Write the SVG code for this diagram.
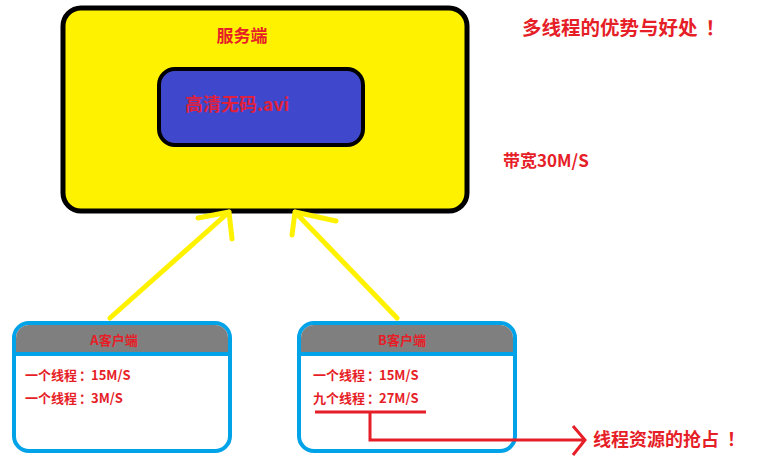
<svg xmlns="http://www.w3.org/2000/svg" width="774" height="464" viewBox="0 0 774 464">
  <style>
    .t { font-family: "Noto Sans CJK SC", "Liberation Sans", sans-serif; font-weight: bold; fill: #e61e28; }
    .yarrow { fill: none; stroke: #fff200; stroke-width: 5; stroke-linecap: round; stroke-linejoin: round; }
    .client { fill: #ffffff; stroke: #00a2e8; stroke-width: 4; }
    .head { fill: #7f7f7f; }
  </style>
  <rect width="774" height="464" fill="#ffffff"/>

  <!-- server -->
  <g id="server">
    <rect x="63" y="8" width="404" height="203" rx="18" fill="#fff200" stroke="#000000" stroke-width="5"/>
    <text class="t" x="242" y="42" font-size="17" text-anchor="middle">服务端</text>
  </g>

  <g id="file">
    <rect x="159" y="69" width="204" height="76" rx="16" fill="#3f48cc" stroke="#000000" stroke-width="4"/>
    <text class="t" x="185" y="111" font-size="18" style="fill:#e0203c">高清无码.avi</text>
  </g>

  <g id="title">
    <text class="t" x="522" y="35" font-size="19.5">多线程的优势与好处<tspan dx="8">！</tspan></text>
  </g>

  <g id="bandwidth">
    <text class="t" x="503" y="167" font-size="17">带宽30M/S</text>
  </g>

  <!-- client A -->
  <g id="clientA">
    <rect class="client" x="14" y="323" width="216" height="128" rx="15"/>
    <path class="head" d="M16 352 V338 A13 13 0 0 1 29 325 H215 A13 13 0 0 1 228 338 V352 Z"/>
    <line x1="14" y1="354" x2="230" y2="354" stroke="#00a2e8" stroke-width="4"/>
    <text class="t" x="114" y="345" font-size="13" text-anchor="middle">A客户端</text>
    <text class="t" x="25" y="380" font-size="13">一个线程<tspan dx="2">：</tspan><tspan dx="-1">15M/S</tspan></text>
    <text class="t" x="25" y="403" font-size="13">一个线程<tspan dx="2">：</tspan><tspan dx="-1">3M/S</tspan></text>
  </g>

  <!-- client B -->
  <g id="clientB">
    <rect class="client" x="299" y="323" width="216" height="128" rx="15"/>
    <path class="head" d="M301 352 V338 A13 13 0 0 1 314 325 H500 A13 13 0 0 1 513 338 V352 Z"/>
    <line x1="299" y1="354" x2="515" y2="354" stroke="#00a2e8" stroke-width="4"/>
    <text class="t" x="402" y="345" font-size="13" text-anchor="middle">B客户端</text>
    <text class="t" x="313" y="380" font-size="13">一个线程<tspan dx="2">：</tspan><tspan dx="-1">15M/S</tspan></text>
    <text class="t" x="313" y="403" font-size="13">九个线程<tspan dx="2">：</tspan><tspan dx="-1">27M/S</tspan></text>
  </g>

  <g id="note">
    <text class="t" x="593" y="446" font-size="18">线程资源的抢占<tspan dx="8">！</tspan></text>
  </g>

  <!-- connectors -->
  <g id="connectors">
    <path class="yarrow" d="M110 318 L229 212 M198 218 L229 212 L232 239"/>
    <path class="yarrow" d="M397 318 L295 212 M292 235 L295 212 L336 221"/>
    <line x1="315" y1="412" x2="426" y2="412" stroke="#e61e28" stroke-width="3"/>
    <path d="M370 412 V440 H585 M573 426 L585 440 L573 455" fill="none" stroke="#e61e28" stroke-width="3"/>
  </g>
</svg>
